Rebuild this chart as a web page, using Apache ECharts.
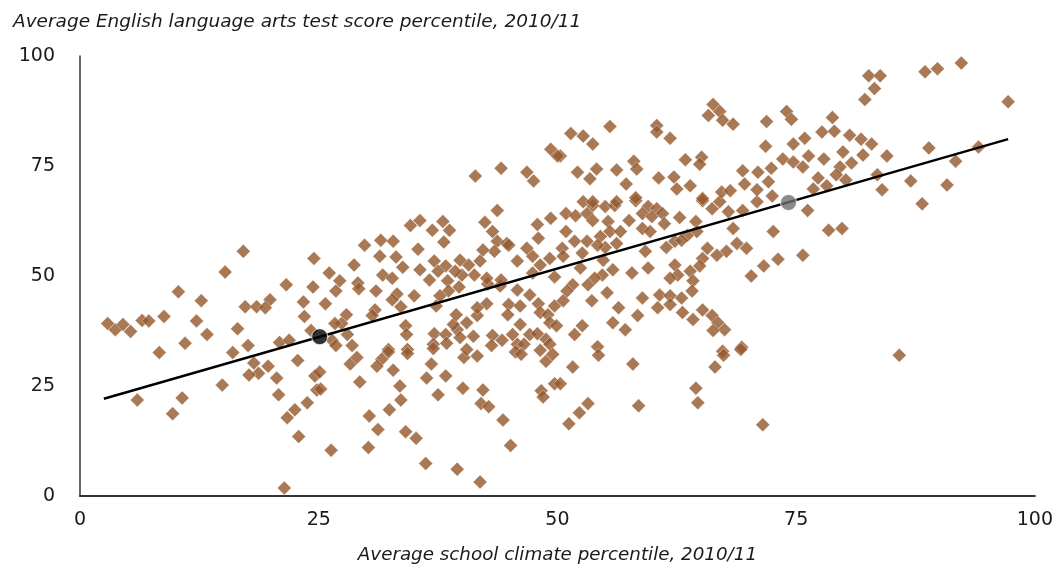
<!DOCTYPE html>
<html>
<head>
<meta charset="utf-8">
<script src="https://cdn.jsdelivr.net/npm/echarts@6/dist/echarts.min.js"></script>
<style>
  html, body { margin: 0; padding: 0; background: #fff; }
  #chart { width: 1056px; height: 569px; }
</style>
</head>
<body>
<div id="chart"></div>
<script>
// School climate percentile (x) vs. ELA test score percentile (y), one diamond per school
const schools = [
  [2.9,39.2],[3.7,37.8],[4.5,39],[5.3,37.4],[6.5,39.9],[7.2,39.8],[8.8,40.8],
  [6.0,21.8],[8.3,32.6],[10.7,22.3],[9.7,18.7],[14.9,25.2],[16,32.6],[18.2,30.2],
  [19.7,29.5],[18.7,27.9],[17.7,27.5],[20.6,26.8],[22.8,30.8],[20.8,23],[22.5,19.6],
  [21.7,17.8],[23.8,21.2],[22.9,13.5],[21.4,1.8],[24.6,27.3],[24.8,24.1],
  [17.1,55.6],[15.2,50.9],[10.3,46.4],[12.7,44.4],[21.6,48],[24.5,54],[24.4,47.5],
  [23.4,44.1],[23.5,40.8],[17.3,43],[18.5,43],[19.9,44.6],[19.4,42.8],[12.2,39.8],
  [13.3,36.7],[11,34.7],[16.5,38],[17.6,34.2],[20.9,34.9],[21.9,35.4],[24.2,37.6],
  [43.7,64.9],[35.6,62.6],[34.6,61.5],[38,62.4],[36.9,60.4],[38.7,60.4],[38.1,57.7],
  [42.4,62.2],[43.2,60.1],[43.7,57.9],[44.7,57.4],[43.4,55.6],[42.2,55.9],[41.9,53.4],
  [40.7,52.5],[39.8,53.6],[41.3,50.2],[40,50.2],[39.3,51.1],[38.3,52.3],[37.1,53.4],
  [37.5,51.1],[36.6,49.1],[38.5,48.9],[38.6,46.6],[39.7,47.5],[37.7,45.5],[37.3,43.2],
  [35.6,51.4],[35.4,56.1],[33.1,54.3],[33.8,52],[31.5,58.1],[32.8,57.9],[29.8,57],
  [31.4,54.5],[28.7,52.5],[31.7,50.2],[32.7,49.5],[31,46.6],[29.1,48.4],[29.2,47.1],
  [27.2,48.9],[26.8,46.6],[26.1,50.7],[25.7,43.7],[33.2,45.9],[35,45.5],[32.7,44.6],
  [33.6,43],[30.9,42.3],[30.6,41],[27.9,41.2],[27.4,39.2],[26.7,39.2],[28,36.7],
  [26.4,35.4],[26.8,34.2],[28.5,34.2],[34.1,38.7],[34.2,36.7],[32.3,33.3],[34.3,33.3],
  [37.1,36.9],[38.3,36.7],[39.5,37.8],[39.1,39],[39.8,36],[41.2,36.3],[37,34.5],
  [38.4,34.7],[43.2,36.5],[44.2,35.4],[43.1,34.2],[45.3,36.7],[45.8,34.5],[46.1,39],
  [47.1,36.7],[46.5,34.5],[47.9,36.9],[48.8,35.6],[49.2,34.5],[39.4,41.2],[40.5,39.4],
  [41.6,41],[42.6,43.7],[41.6,42.8],[42.7,48.2],[44,47.7],[45.8,46.8],[47.1,45.7],
  [44.9,43.5],[46.1,43.2],[44.8,41.2],[48,43.7],[48.2,41.7],[49,41.2],[49.7,43.2],
  [49.2,39.4],[49.9,38.7],[42.6,49.5],[44.1,49.1],[45.8,53.4],[47.4,54.5],[48.2,52.5],
  [49.2,54],[47.4,50.7],[49.7,49.8],[46.8,56.3],[48,58.6],[47.9,61.7],[49.3,63.1],
  [44.9,57],
  [50.9,64.2],[51.9,63.7],[53.7,66],[55,65.8],[56,66],[53.1,64.2],[53.7,62.6],
  [55.3,62.4],[57.5,62.6],[58.2,67.1],[59.5,65.8],[60.4,65.3],[58.9,64.2],[59.9,63.5],
  [61,64.2],[61.2,61.9],[58.9,60.8],[59.7,60.1],[62.8,63.3],[64.5,62.4],[64.6,60.1],
  [63.6,59.2],[62.3,57.9],[61.4,56.5],[63,58.1],[59.2,55.6],[65.2,67.1],[66.2,65.3],
  [67,66.9],[67.9,64.6],[69.4,64.9],[70.9,66.9],[68.4,60.8],[68.8,57.4],[69.8,56.3],
  [67.7,55.6],[66.7,54.7],[65.7,56.3],[65.2,54],[64.9,52.3],[63.9,51.1],[64.2,48.9],
  [64.1,46.6],[62.3,52.5],[62.6,50.2],[61.8,49.5],[59.5,51.8],[57.8,50.7],[72.6,60.1],
  [73.1,53.8],[71.6,52.3],[70.3,50],[50.9,60.1],[51.8,57.9],[53.1,57.9],[54.5,59],
  [55.5,60.1],[56.6,60.1],[56.2,57.4],[55,56.5],[54.2,57],[52.6,55.2],[54.8,53.6],
  [55.8,51.4],[52.4,51.8],[50.5,56.3],[50.6,54.5],[54.7,50.2],[53.9,49.5],[53.2,48],
  [51.6,48],[51,46.6],[55.2,46.2],[53.6,44.4],[50.6,44.4],[56.4,42.8],[58.9,45],
  [60.7,45.7],[61.8,45.5],[60.5,42.8],[61.8,43.5],[63,45],[63.1,41.7],[64.2,40.1],
  [65.2,42.3],[66.2,41],[66.8,39.4],[67.5,37.8],[66.3,37.6],[58.4,41],[55.8,39.4],
  [57.1,37.8],[52.6,38.7],[51.8,36.7],[69.3,33.8],[54.2,33.9],[67.3,32.9],
  [66.3,89],[67,87.4],[65.8,86.5],[67.3,85.4],[68.4,84.5],[71.9,85.1],[74,87.4],
  [74.5,85.6],[55.5,84],[51.4,82.4],[52.7,81.8],[53.7,80],[60.4,84.2],[60.4,82.7],
  [61.8,81.3],[71.8,79.5],[74.7,80],[50.3,77.3],[52.1,73.6],[54.1,74.3],[53.4,72.1],
  [56.2,74.1],[58,76.1],[58.3,74.3],[57.2,70.9],[58.2,67.8],[60.6,72.3],[62.2,72.5],
  [62.5,69.8],[63.9,70.5],[63.4,76.4],[65.1,77],[64.9,75.4],[69.4,73.9],[71,73.6],
  [72.4,74.5],[69.6,70.9],[70.9,69.6],[72.1,71.4],[72.5,68.2],[73.6,76.6],[74.7,75.9],
  [67.2,69.1],[68.1,69.4],[65.2,67.6],[52.7,66.9],[53.7,66.9],[56.2,66.9],
  [41.4,72.7],[44.1,74.5],[46.8,73.6],[47.5,71.6],[49.3,78.8],[50,77.3],
  [82.6,95.5],[83.8,95.5],[83.2,92.6],[82.2,90.1],[88.5,96.4],[89.8,97.1],[92.3,98.4],
  [97.2,89.6],[78.8,86],[77.7,82.7],[79,82.9],[80.6,82],[81.8,81.1],[82.9,80],
  [75.9,81.3],[76.3,77.3],[77.9,76.6],[79.9,78.2],[82,77.5],[80.8,75.7],[84.5,77.3],
  [79.6,74.8],[79.2,73],[75.7,74.8],[77.3,72.3],[80.2,71.8],[83.5,73],[88.9,79.1],
  [91.7,76.1],[94.1,79.3],[87,71.6],[90.8,70.7],[84,69.6],[78.2,70.5],[76.8,69.8],
  [88.2,66.4],[76.2,64.9],[78.4,60.4],[79.8,60.8],[75.7,54.7],[85.8,32],
  [34.3,32.4],[32.3,32.7],[31.6,31.1],[31.1,29.5],[32.8,28.6],[28.3,30],[29,31.5],
  [29.3,25.9],[33.5,25],[33.6,21.8],[32.4,19.6],[30.3,18.2],[31.2,15.1],[34.1,14.6],
  [35.2,13.1],[30.2,11],[26.3,10.4],[36.2,7.4],[39.5,6.1],[41.9,3.2],[36.8,30],
  [36.3,26.8],[38.3,27.3],[37.5,23],[40.1,24.5],[42.2,24.1],[42,21],[42.8,20.3],
  [44.3,17.3],[45.1,11.5],[40.2,31.5],[41.6,31.8],[40.5,33.3],[37,33.5],[45.6,32.7],
  [46.2,32.2],[48.2,33.1],[48.8,30.6],[49.5,32.2],[49.7,25.5],[48.3,23.9],[48.5,22.5],
  [25.1,28.2],[25.2,24.3],
  [51.6,29.3],[54.3,32],[57.9,30],[58.5,20.5],[53.2,21],[52.3,18.9],[51.2,16.4],
  [50.3,25.5],[64.5,24.5],[64.7,21.2],[66.5,29.3],[67.4,32],[69.2,33.3],[71.5,16.2]
];

// Fitted trend line endpoints
const trendLine = [[2.5, 22.1], [97.2, 81.1]];
// Two highlighted schools on the trend line
const lowClimateSchool = [[25.1, 36.2]];
const highClimateSchool = [[74.2, 66.7]];

const axisTicks = [0, 25, 50, 75, 100];

const chart = echarts.init(document.getElementById('chart'));
const textColor = '#1a1a1a';
const fontFamily = '"DejaVu Sans", "Liberation Sans", sans-serif';

chart.setOption({
  animation: false,
  backgroundColor: '#fff',
  title: {
    text: 'Average English language arts test score percentile, 2010/11',
    left: 8,
    top: 8,
    textStyle: { fontFamily, fontStyle: 'italic', fontWeight: 'normal', fontSize: 18.5, color: textColor }
  },
  grid: { left: 80, right: 21, top: 56, bottom: 69, containLabel: false },
  xAxis: {
    type: 'value',
    min: axisTicks[0], max: axisTicks[axisTicks.length - 1], interval: 25,
    name: 'Average school climate percentile, 2010/11',
    nameLocation: 'middle',
    nameGap: 50,
    nameTextStyle: { fontFamily, fontStyle: 'italic', fontSize: 18.3, color: textColor },
    axisLine: { show: true, lineStyle: { color: '#333', width: 2 } },
    axisTick: { show: false },
    splitLine: { show: false },
    axisLabel: { fontFamily, fontSize: 19, color: textColor, margin: 15 }
  },
  yAxis: {
    type: 'value',
    min: axisTicks[0], max: axisTicks[axisTicks.length - 1], interval: 25,
    axisLine: { show: true, lineStyle: { color: '#333', width: 1.5 } },
    axisTick: { show: false },
    splitLine: { show: false },
    axisLabel: { fontFamily, fontSize: 19, color: textColor, margin: 25 }
  },
  series: [
    {
      type: 'scatter',
      data: schools,
      symbol: 'diamond',
      symbolSize: 14,
      itemStyle: { color: '#93572c', borderColor: '#fff', borderWidth: 0.5 },
      z: 2
    },
    {
      type: 'line',
      data: trendLine,
      symbol: 'none',
      lineStyle: { color: '#000', width: 2.5 },
      z: 3
    },
    {
      type: 'scatter',
      data: lowClimateSchool,
      symbol: 'circle',
      symbolSize: 16,
      itemStyle: { color: '#000', borderColor: '#fff', borderWidth: 1 },
      z: 4
    },
    {
      type: 'scatter',
      data: highClimateSchool,
      symbol: 'circle',
      symbolSize: 16,
      itemStyle: { color: '#6e6e70', borderColor: '#fff', borderWidth: 1 },
      z: 4
    }
  ]
});
</script>
</body>
</html>
